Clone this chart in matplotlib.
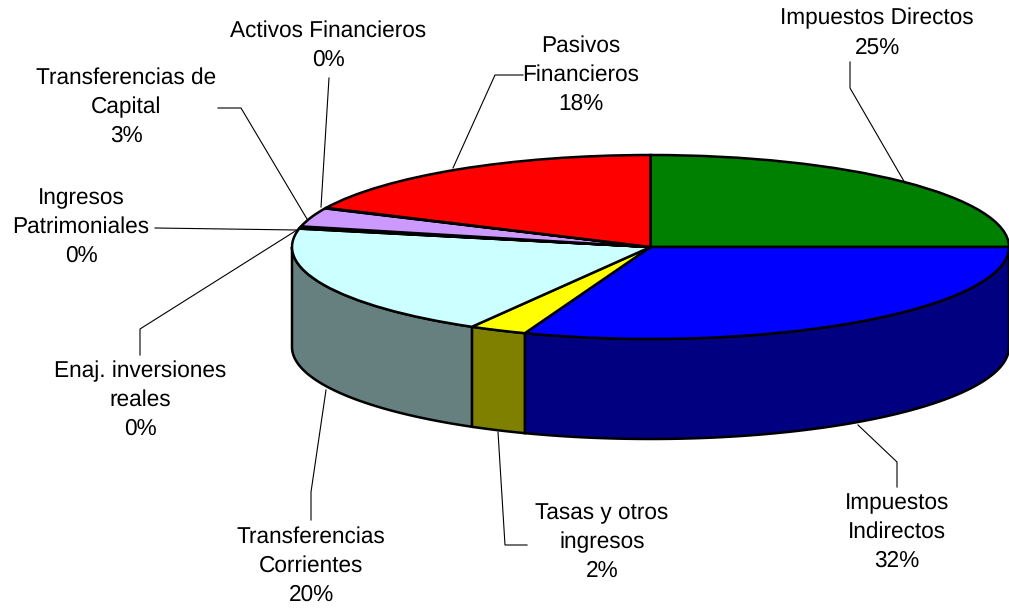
import numpy as np
from matplotlib import pyplot as plt

plt.rcParams['text.hinting'] = 'none'

# categorias en el orden del grafico, en sentido horario desde arriba
nombres = ['Impuestos Directos', 'Impuestos\nIndirectos', 'Tasas y otros\ningresos',
           'Transferencias\nCorrientes', 'Enaj. inversiones\nreales', 'Ingresos\nPatrimoniales',
           'Transferencias de\nCapital', 'Activos Financieros', 'Pasivos\nFinancieros']
# tamanio aparente de cada porcion en el dibujo
valores = [25.0, 30.7, 2.6, 19.9, 0.1, 0.3, 3.3, 0.1, 18.0]
# porcentajes que dicen los rotulos
porcentajes = [25, 32, 2, 20, 0, 0, 3, 0, 18]
colores = ['#008000', '#0000FF', '#FFFF00', '#CCFFFF', '#FFFFFF', '#660066', '#CC99FF', '#FFFFFF', '#FF0000']
colores_lado = ['#004000', '#000080', '#808000', '#668080', '#808080', '#330033', '#665080', '#808080', '#800000']

# posicion del rotulo (px) y recorrido de cada guia (px)
pos_rotulos = [(877, 33), (897, 532), (602, 542), (311, 566), (140, 400), (81, 227), (126, 107), (328, 45), (581, 75)]
guias = [[(850, 62), (850, 88), (905, 183)],
         [(897, 487), (897, 462), (858, 425)],
         [(527, 545), (505, 545), (498, 432)],
         [(311, 520), (311, 492), (326, 390)],
         [(140, 355), (140, 329), (297, 230)],
         [(155, 228), (297, 230)],
         [(218, 108), (241, 108), (307, 219)],
         [(329, 78), (321, 207)],
         [(523, 75), (495, 75), (453, 168)]]

ANCHO, ALTO = 1009, 608
CX, CY, RX, RY, PROF = 650.5, 247, 358.5, 92, 100
BORDE = 1.8

fig = plt.figure(figsize=(ANCHO / 100, ALTO / 100), dpi=100)
ax = fig.add_axes([0, 0, 1, 1])

# paredes laterales: solo la mitad de adelante del disco se ve
acum = np.cumsum([0] + valores)
prof = PROF / RY
for i in range(len(valores)):
    a0 = 90 - acum[i] * 3.6
    a1 = 90 - acum[i + 1] * 3.6
    # angulos en sentido horario, recortados a la mitad inferior
    ini, fin = max(a1, -180), min(a0, 0)
    if fin <= ini:
        continue
    t = np.radians(np.linspace(fin, ini, 80))
    x = np.cos(t)
    y = np.sin(t)
    ax.fill(np.r_[x, x[::-1]], np.r_[y, y[::-1] - prof], facecolor=colores_lado[i],
            edgecolor='black', linewidth=BORDE, zorder=1)

wedges, _ = ax.pie(valores, colors=colores, startangle=90, counterclock=False, radius=1, frame=True,
                   wedgeprops={'edgecolor': 'black', 'linewidth': BORDE, 'zorder': 2})

ax.set_aspect('auto')
ax.set_xlim(-CX / RX, (ANCHO - CX) / RX)
ax.set_ylim((CY - ALTO) / RY, CY / RY)
ax.axis('off')

# capa en pixeles para rotulos y guias
capa = fig.add_axes([0, 0, 1, 1], facecolor='none')
capa.set_xlim(0, ANCHO)
capa.set_ylim(ALTO, 0)
capa.axis('off')

for nombre, pct, pos, guia in zip(nombres, porcentajes, pos_rotulos, guias):
    capa.plot([p[0] for p in guia], [p[1] for p in guia], color='black', linewidth=0.8)
    capa.text(pos[0], pos[1], f'{nombre}\n{pct}%', ha='center', va='center',
              family='Liberation Sans', fontsize=16.3, linespacing=1.44, color='black')

fig.savefig('out.png', dpi=100)
